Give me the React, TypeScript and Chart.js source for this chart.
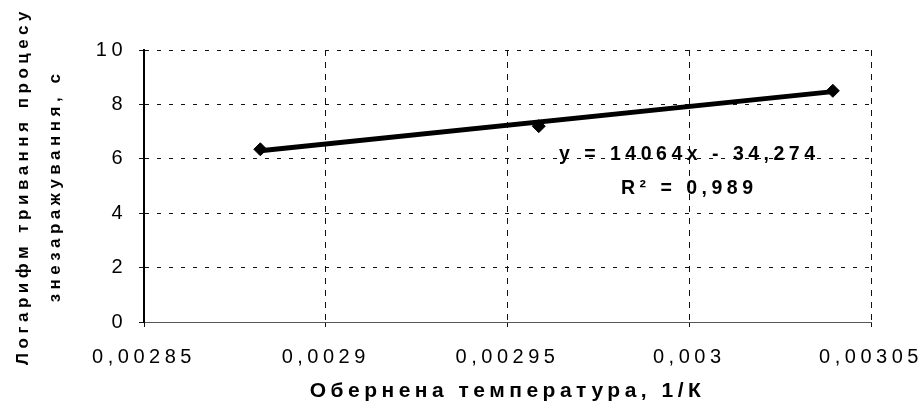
import React, { useEffect, useRef } from 'react';
import { Chart, registerables } from 'chart.js';

Chart.register(...registerables);

// ---- data ----
const xValues = [0.002882, 0.0029586, 0.0030395];
const yValues = [6.35, 7.2, 8.5];
const trendX = [0.002882, 0.0030395];
const trendY = [6.3, 8.47];
const xTicks = [0.00285, 0.0029, 0.00295, 0.003, 0.00305];
const yTicks = [0, 2, 4, 6, 8, 10];
const xTitle = 'Обернена температура, 1/К';
const yTitle = ['Логарифм тривання процесу', 'знезаражування, с'];
const equationText = 'y = 14064x - 34,274';
const rSquaredText = 'R² = 0,989';

const FAMILY = '"Liberation Sans", Arial, sans-serif';
const SPACING = '4.5px';

const fmt = (v: number) => String(Number(v.toFixed(6))).replace('.', ',');

const spacingPlugin = {
  id: 'letterSpacing',
  beforeUpdate(chart: any) {
    chart.ctx.letterSpacing = SPACING;
  },
  beforeLayout(chart: any) {
    chart.ctx.letterSpacing = SPACING;
  },
  beforeDraw(chart: any) {
    chart.ctx.letterSpacing = SPACING;
  },
};

const equationPlugin = {
  id: 'equation',
  afterDatasetsDraw(chart: any) {
    const { ctx, scales } = chart;
    const xs = scales.x;
    const ys = scales.y;
    ctx.save();
    ctx.letterSpacing = SPACING;
    ctx.font = `bold 19.5px ${FAMILY}`;
    ctx.fillStyle = '#000';
    ctx.textAlign = 'center';
    ctx.textBaseline = 'middle';
    ctx.fillText(equationText, xs.getPixelForValue(0.003), ys.getPixelForValue(6.14));
    ctx.fillText(rSquaredText, xs.getPixelForValue(0.003), ys.getPixelForValue(4.89));
    ctx.restore();
  },
};

export default function App() {
  const ref = useRef<HTMLCanvasElement | null>(null);

  useEffect(() => {
    if (!ref.current) return;
    const chart = new Chart(ref.current, {
      type: 'scatter',
      data: {
        datasets: [
          {
            label: 'trend',
            data: trendX.map((x, i) => ({ x, y: trendY[i] })),
            showLine: true,
            borderColor: '#000',
            borderWidth: 5,
            pointRadius: 0,
            backgroundColor: '#000',
          },
          {
            label: 'data',
            data: xValues.map((x, i) => ({ x, y: yValues[i] })),
            showLine: false,
            pointStyle: 'rectRot',
            pointRadius: 6.5,
            backgroundColor: '#000',
            borderColor: '#000',
            borderWidth: 1,
          },
        ],
      },
      options: {
        responsive: false,
        animation: false,
        layout: { padding: { left: 0, right: 50, top: 50, bottom: 0 } },
        plugins: {
          legend: { display: false },
          tooltip: { enabled: false },
        },
        scales: {
          x: {
            type: 'linear',
            min: 0.00285,
            max: 0.00305,
            afterBuildTicks: (scale: any) => {
              scale.ticks = xTicks.map((v) => ({ value: v }));
            },
            afterFit: (scale: any) => {
              scale.height = 88;
              scale.paddingLeft = 0;
              scale.paddingRight = 0;
            },
            ticks: {
              callback: (v: any) => fmt(Number(v)),
              color: '#000',
              font: { family: FAMILY, size: 20 },
              padding: 18,
              maxRotation: 0,
              autoSkip: false,
            },
            grid: {
              color: '#111',
              lineWidth: 1,
              tickLength: 5,
              tickBorderDash: [],
            },
            border: { display: true, color: '#555', width: 1, dash: [6, 6] },
            title: {
              display: true,
              text: xTitle,
              color: '#000',
              font: { family: FAMILY, size: 21, weight: 'bold' },
              padding: { top: 0, bottom: 6 },
            },
          },
          y: {
            type: 'linear',
            min: 0,
            max: 10,
            afterBuildTicks: (scale: any) => {
              scale.ticks = yTicks.map((v) => ({ value: v }));
            },
            afterFit: (scale: any) => {
              scale.width = 144;
              scale.paddingTop = 0;
              scale.paddingBottom = 0;
            },
            ticks: {
              callback: (v: any) => fmt(Number(v)),
              color: '#000',
              font: { family: FAMILY, size: 20 },
              padding: 12,
            },
            grid: {
              color: '#111',
              lineWidth: 1,
              tickLength: 5,
              tickBorderDash: [],
            },
            border: { display: true, color: '#000', width: 2, dash: [4, 8] },
            title: {
              display: true,
              text: yTitle,
              color: '#000',
              font: { family: FAMILY, size: 17, weight: 'bold', lineHeight: 1.9 },
              padding: { top: 7, bottom: 0 },
            },
          },
        },
      },
      plugins: [spacingPlugin, equationPlugin],
    } as any);
    return () => chart.destroy();
  }, []);

  return (
    <div style={{ position: 'fixed', left: 0, top: 0, width: 921, height: 410, background: '#fff' }}>
      <canvas ref={ref} width={921} height={410} />
    </div>
  );
}
